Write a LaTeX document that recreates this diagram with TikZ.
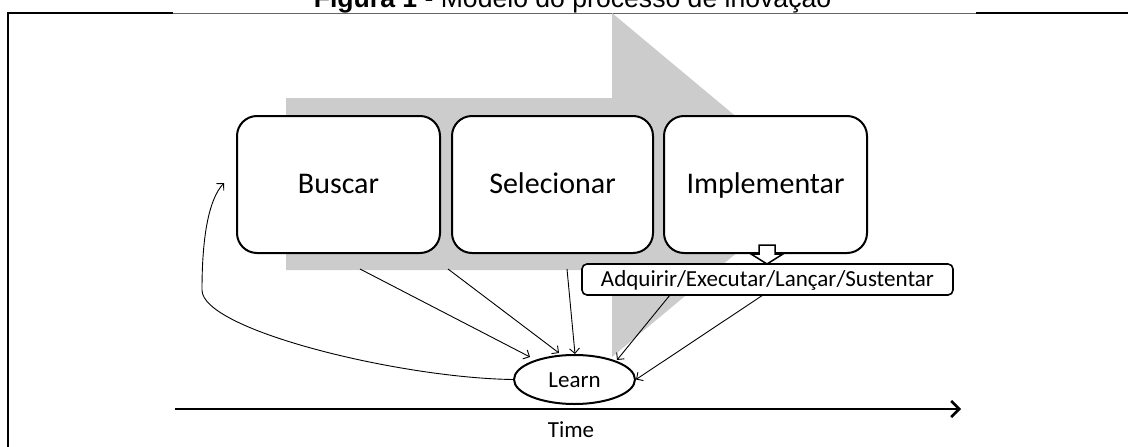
\documentclass[tikz,border=0pt]{standalone}
\usepackage{fontspec}
\setmainfont{Carlito}
\newfontfamily\titlefont{Liberation Sans}
\usetikzlibrary{arrows.meta,shapes.geometric}

\definecolor{flowgray}{RGB}{204,204,204}
\definecolor{rulegray}{RGB}{100,100,100}

\tikzset{
  stage/.style={draw, line width=2pt, rounded corners=20pt, fill=white,
    minimum height=137pt, inner sep=0pt, text height=21pt, text depth=4pt,
    font=\fontsize{30}{36}\selectfont},
  substage/.style={draw, line width=1.6pt, rounded corners=5pt, fill=white,
    minimum width=371pt, minimum height=31pt, inner sep=0pt,
    text height=16pt, text depth=3pt, font=\fontsize{23}{28}\selectfont},
  learnnode/.style={ellipse, draw, line width=2pt, fill=white,
    minimum width=121pt, minimum height=49pt, inner sep=0pt,
    text height=17pt, text depth=2pt, font=\fontsize{23}{28}\selectfont},
  feed/.style={line width=0.9pt, -{Straight Barb[length=5pt,width=10pt]}},
  axis/.style={line width=2.6pt, -{Straight Barb[length=8pt,width=16pt,line width=2.6pt]}}
}

\begin{document}
\begin{tikzpicture}[x=1pt,y=-1pt]
\useasboundingbox (0,0) rectangle (1128,447);

% title and frame
\node[anchor=base, font=\titlefont\fontsize{26.6}{30}\selectfont] (title) at (572.5,8)
  {\textbf{Figura 1} - Modelo do processo de inovação};
\draw[line width=2pt] (7.5,448) -- (7.5,13) -- (173,13);
\draw[line width=1pt, rulegray] (173,13.5) -- (976,13.5);
\draw[line width=2pt] (976,13) -- (1129,13);

% broad process arrow in the background
\fill[flowgray] (286,98) -- (612,98) -- (612,13) -- (818,185) -- (612,357)
  -- (612,270) -- (286,270) -- cycle;

% stages
\node[stage, minimum width=203pt] (buscar) at (338.5,184.5) {Buscar};
\node[stage, minimum width=201pt] (selec) at (552.5,184.5) {Selecionar};
\node[stage, minimum width=203pt] (impl) at (765.5,184.5) {Implementar};

% hollow arrow down to the sub-stages
\draw[line width=1.5pt, fill=white, line join=miter]
  (759,245) -- (775,245) -- (775,254) -- (783,254) -- (767,264) -- (751,254)
  -- (759,254) -- cycle;

\node[substage] (sub) at (767.5,279.5) {Adquirir/Executar/Lançar/Sustentar};

% learning
\node[learnnode] (learn) at (574.5,379.5) {Learn};

\coordinate (s1) at (360,269);
\coordinate (s2) at (448,269);
\coordinate (s3) at (567,269);
\coordinate (s4) at (670,295);
\coordinate (s5) at (763,295);
\coordinate (back) at (224,183);

\draw[feed] (s1) -- (530,357);
\draw[feed] (s2) -- (559,353);
\draw[feed] (s3) -- (575,354);
\draw[feed] (s4) -- (617,360);
\draw[feed] (s5) -- (learn.east);

% feedback loop from learning back to search
\draw[feed] (learn.west) .. controls (400,378) and (202,330) .. (202,290)
  .. controls (202,240) and (208,200) .. (back);

% time axis
\coordinate (t0) at (175,409);
\coordinate (t1) at (961,409);
\draw[axis] (t0) -- (t1);
\node[anchor=base, font=\fontsize{23}{28}\selectfont] (time) at (571,437) {Time};
\end{tikzpicture}
\end{document}
